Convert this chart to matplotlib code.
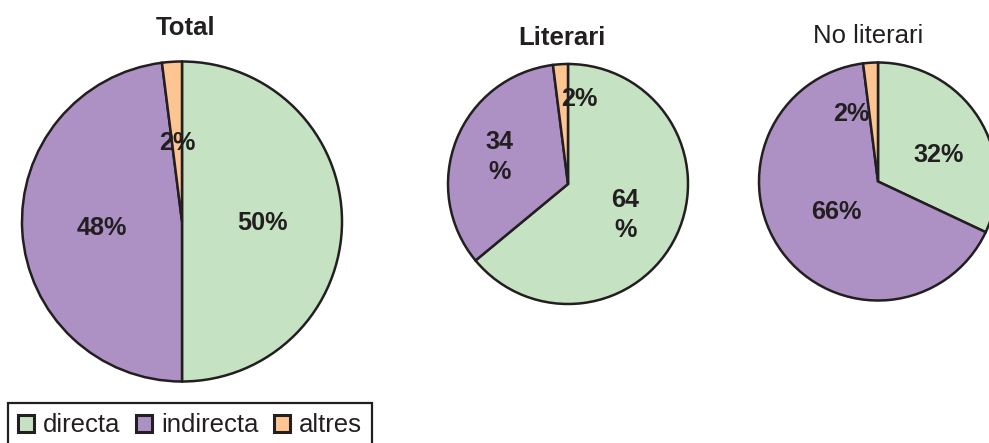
import numpy as np
import matplotlib.pyplot as plt

plt.rcParams['font.family'] = ['Liberation Sans', 'DejaVu Sans']

categories = ['directa', 'indirecta', 'altres']
colors = ['#c5e2c3', '#ad91c5', '#fdc591']
ink = '#231f20'

titles = ['Total', 'Literari', 'No literari']
total_vals = [50, 48, 2]
literari_vals = [64, 34, 2]
no_literari_vals = [32, 66, 2]

W, H = 989, 443

# layout in pixels (x from left, y from top)
layout = [
    dict(vals=total_vals, center=(182, 221.5), r=160, title_xy=(185.5, 35), bold=True,
         dist=[0.5, 0.5, 0.5], nudge=[(0, 1), (0, 1), (0, 1)], wrap=[False, False, False]),
    dict(vals=literari_vals, center=(568, 184), r=120, title_xy=(562, 45), bold=True,
         dist=[0.53, 0.61, 0.71], nudge=[(0, 4), (0, 0), (17, 0)], wrap=[True, True, False]),
    dict(vals=no_literari_vals, center=(878, 181.5), r=119, title_xy=(868.5, 43), bold=False,
         dist=[0.56, 0.43, 0.6], nudge=[(4, 9), (0, 0), (-22, 4)], wrap=[False, False, False]),
]

fig = plt.figure(figsize=(W / 100, H / 100), dpi=100)
ax = fig.add_axes([0, 0, 1, 1])

handles = None
for title, p in zip(titles, layout):
    cx, cy = p['center']
    wedges, _ = ax.pie(p['vals'], colors=colors, startangle=90, counterclock=False,
                       center=(cx, H - cy), radius=p['r'],
                       wedgeprops=dict(edgecolor=ink, linewidth=1.8))
    if handles is None:
        handles = wedges
    for w, v, d, (nx, ny), wr in zip(wedges, p['vals'], p['dist'], p['nudge'], p['wrap']):
        mid = np.deg2rad((w.theta1 + w.theta2) / 2)
        x = cx + d * p['r'] * np.cos(mid) + nx
        y = (H - cy) + d * p['r'] * np.sin(mid) - ny
        txt = f'{v}\n%' if wr else f'{v}%'
        ax.text(x, y, txt, ha='center', va='center', fontsize=18.2, fontweight='bold',
                color=ink, linespacing=1.3)
    tx, ty = p['title_xy']
    ax.text(tx, H - ty, title, ha='center', va='baseline', fontsize=18.5,
            fontweight='bold' if p['bold'] else 'normal', color=ink)

ax.set_xlim(0, W)
ax.set_ylim(0, H)
ax.set_aspect('equal')
ax.axis('off')

leg = ax.legend(handles, categories, loc='upper left', ncol=3,
                bbox_to_anchor=(8 / W, 1 - 403 / H), bbox_transform=fig.transFigure,
                frameon=True, fancybox=False, fontsize=18.5, borderaxespad=0,
                handlelength=0.62, handleheight=0.62, handletextpad=0.35,
                columnspacing=0.6, borderpad=0.4, labelcolor=ink)
leg.get_frame().set_edgecolor(ink)
leg.get_frame().set_linewidth(1.6)
leg.get_frame().set_alpha(1)
for h in leg.legend_handles:
    h.set_linewidth(2.2)

fig.savefig('out.png', dpi=100, facecolor='white')
